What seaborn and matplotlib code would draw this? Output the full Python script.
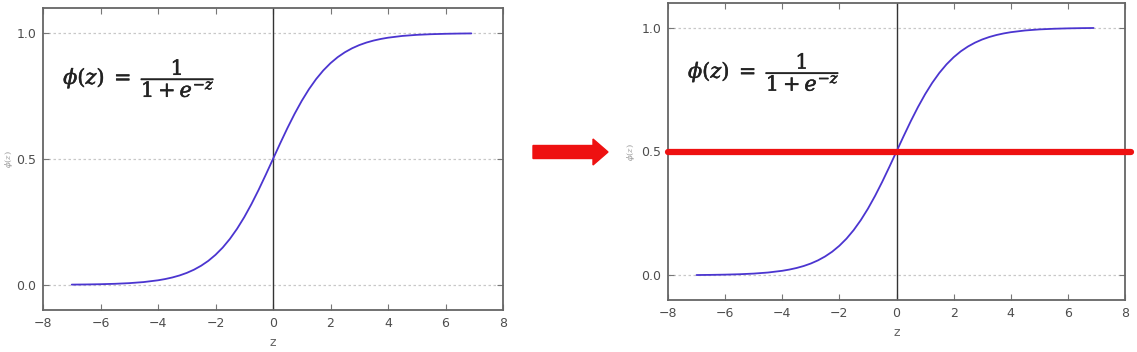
import numpy as np
import pandas as pd
import seaborn as sns
import matplotlib
matplotlib.use("Agg")
import matplotlib.pyplot as plt
import matplotlib.patheffects as pe
from matplotlib.patches import FancyArrow
from matplotlib.transforms import IdentityTransform

# Values
z_vals = [-7.0, -6.5, -6.0, -5.5, -5.0, -4.5, -4.0, -3.75, -3.5, -3.25, -3.0, -2.75,
          -2.5, -2.25, -2.0, -1.75, -1.5, -1.25, -1.0, -0.75, -0.5, -0.25, 0.0,
          0.25, 0.5, 0.75, 1.0, 1.25, 1.5, 1.75, 2.0, 2.25, 2.5, 2.75, 3.0, 3.25,
          3.5, 3.75, 4.0, 4.5, 5.0, 5.5, 6.0, 6.5, 6.9]
phi_vals = [0.0009, 0.0015, 0.0025, 0.0041, 0.0067, 0.0110, 0.0180, 0.0230, 0.0293,
            0.0373, 0.0474, 0.0601, 0.0759, 0.0953, 0.1192, 0.1480, 0.1824, 0.2227,
            0.2689, 0.3208, 0.3775, 0.4378, 0.5000, 0.5622, 0.6225, 0.6792, 0.7311,
            0.7773, 0.8176, 0.8520, 0.8808, 0.9047, 0.9241, 0.9399, 0.9526, 0.9627,
            0.9707, 0.9770, 0.9820, 0.9890, 0.9933, 0.9959, 0.9975, 0.9985, 0.9990]
x_ticks = [-8, -6, -4, -2, 0, 2, 4, 6, 8]
y_ticks = [0.0, 0.5, 1.0]
threshold = 0.5
formula = r"$\phi(z)\;=\;\dfrac{1}{1+e^{-z}}$"

df = pd.DataFrame({"z": z_vals, "phi": phi_vals})

sns.set_theme(style="white")
plt.rcParams["font.family"] = ["DejaVu Sans"]
plt.rcParams["mathtext.fontset"] = "dejavuserif"

W, H = 1137, 352
fig = plt.figure(figsize=(W / 100, H / 100), dpi=100)
fig.patch.set_facecolor("white")


def px(l, t, r, b):
    return [l / W, (H - b) / H, (r - l) / W, (b - t) / H]


axes = [fig.add_axes(px(43, 8, 503, 310)), fig.add_axes(px(668, 3, 1125, 300))]
ylabel_x = [-0.060, -0.068]

for i, ax in enumerate(axes):
    sns.lineplot(data=df, x="z", y="phi", ax=ax, color="#4b35d0", linewidth=1.3)
    ax.axvline(0, color="#333333", linewidth=1.0, zorder=1)
    ax.set_xlim(-8, 8)
    ax.set_ylim(-0.1, 1.1)
    ax.set_xticks(x_ticks)
    ax.set_yticks(y_ticks)
    ax.set_xticklabels([f"{t}".replace("-", "\u2212") for t in x_ticks])
    ax.set_yticklabels([f"{t:.1f}" for t in y_ticks])
    for y in y_ticks:
        ax.axhline(y, color="#c8c8c8", linewidth=0.9, linestyle=(0, (2, 2)), zorder=0)
    ax.tick_params(axis="both", direction="in", length=4, width=0.8, color="#777777",
                   labelsize=9, labelcolor="#4d4d4d", top=True, right=True,
                   bottom=True, left=True, pad=5)
    for s in ax.spines.values():
        s.set_color("#666666")
        s.set_linewidth(1.3)
    ax.set_xlabel("z", fontsize=9, color="#666666", labelpad=4)
    ax.set_ylabel(r"$\phi(z)$", fontsize=6, color="#999999")
    ax.yaxis.set_label_coords(ylabel_x[i], 0.5)
    t = ax.text(-7.3, 0.82, formula, fontsize=15, color="#222222", va="center", ha="left")
    t.set_path_effects([pe.withStroke(linewidth=0.35, foreground="#222222")])

# threshold line on right panel, extending past the frame
axes[1].axhline(threshold, xmin=0, xmax=(1131 - 668) / 457, color="#ee1111",
                linewidth=4.5, clip_on=False, zorder=5)

# red arrow between panels (pixel coordinates)
arrow = FancyArrow(533, H - 152, 60, 0, width=13, head_width=26, head_length=15,
                   length_includes_head=False, color="#ee1111", transform=IdentityTransform())
fig.patches.append(arrow)

fig.savefig("out.png", dpi=100, facecolor="white")
